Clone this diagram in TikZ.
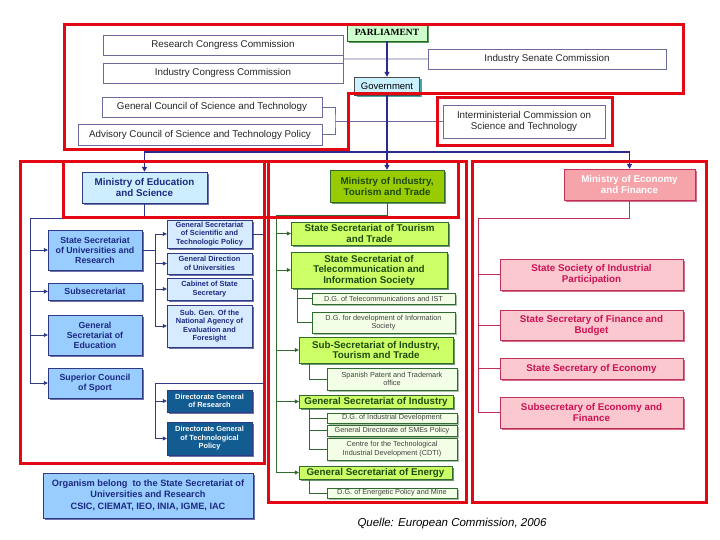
\documentclass[tikz,border=0pt]{standalone}
\usepackage{fontspec}
\setmainfont{Liberation Sans}
\newfontfamily\timesfont{Liberation Serif}
\usepackage{tikz}
\usetikzlibrary{arrows.meta,calc,positioning,shadows}

\definecolor{framered}{HTML}{E30613}
\definecolor{navyline}{HTML}{2B2B8C}
\definecolor{comline}{HTML}{6B6B9E}
\definecolor{parlfill}{HTML}{CCFFCC}
\definecolor{parlline}{HTML}{1E6B1E}
\definecolor{govfill}{HTML}{C9F1FF}
\definecolor{eduline}{HTML}{2E3A86}
\definecolor{edutext}{HTML}{1C2A80}
\definecolor{eduminfill}{HTML}{CDEEFF}
\definecolor{edumidfill}{HTML}{99CCFF}
\definecolor{edulowfill}{HTML}{D6EBFF}
\definecolor{edudirfill}{HTML}{135C91}
\definecolor{indline}{HTML}{2F6B2F}
\definecolor{indtext}{HTML}{1E4A10}
\definecolor{indminfill}{HTML}{99CC00}
\definecolor{indmidfill}{HTML}{CCFF66}
\definecolor{indlowfill}{HTML}{F2FFE6}
\definecolor{ecoline}{HTML}{C03058}
\definecolor{ecotext}{HTML}{CC1155}
\definecolor{ecominfill}{HTML}{F7A3AA}
\definecolor{ecomidfill}{HTML}{FAC8CE}

\begin{document}
\begin{tikzpicture}[x=1pt, y=-1pt,
    every node/.style={align=center, inner sep=.5pt},
    wh/.style 2 args={minimum width=#1pt, minimum height=#2pt},
    redframe/.style={draw=framered, line width=3pt},
    boxshadow/.style={drop shadow={shadow xshift=2pt, shadow yshift=-2pt, fill=#1, opacity=.7}},
    com/.style={draw=comline, fill=white, text=black!85, font=\fontsize{9.8}{11.5}\selectfont},
    parlbox/.style={draw=parlline, fill=parlfill, font=\timesfont\bfseries\fontsize{9.5}{10}\selectfont, boxshadow=parlline},
    govbox/.style={draw=black!70, fill=govfill, font=\fontsize{9.5}{10}\selectfont, boxshadow=teal},
    edumin/.style={draw=eduline, fill=eduminfill, text=edutext, font=\bfseries\fontsize{9.8}{11}\selectfont, boxshadow=eduline},
    edumid/.style={draw=eduline, fill=edumidfill, text=edutext, font=\bfseries\fontsize{8.8}{10}\selectfont, boxshadow=eduline},
    edulow/.style={draw=eduline, fill=edulowfill, text=edutext, font=\bfseries\fontsize{7.4}{8.3}\selectfont, boxshadow=eduline},
    edudir/.style={draw=eduline, fill=edudirfill, text=white, font=\bfseries\fontsize{7.4}{8.5}\selectfont, boxshadow=eduline},
    orgbox/.style={edumid, font=\bfseries\fontsize{9.2}{10.5}\selectfont},
    indmin/.style={draw=indline, fill=indminfill, text=indtext, font=\bfseries\fontsize{9.8}{11}\selectfont, boxshadow=indline},
    indmid/.style={draw=indline, fill=indmidfill, text=indtext, font=\bfseries\fontsize{9.8}{10.5}\selectfont, boxshadow=indline},
    indlow/.style={draw=indline, fill=indlowfill, text=black!75, font=\fontsize{7.3}{8.3}\selectfont, boxshadow=indline!60},
    ecomin/.style={draw=ecoline, fill=ecominfill, text=white, font=\bfseries\fontsize{9.8}{11}\selectfont, boxshadow=ecoline},
    ecomid/.style={draw=ecoline, fill=ecomidfill, text=ecotext, font=\bfseries\fontsize{9.8}{11}\selectfont, boxshadow=ecoline},
    comcon/.style={draw=comline, line width=.6pt},
    navycon/.style={draw=navyline, line width=1.5pt},
    educon/.style={draw=eduline, line width=.8pt},
    indcon/.style={draw=indline, line width=.8pt},
    ecocon/.style={draw=ecoline, line width=.8pt}]
    \fill[white] (0,0) rectangle (720,540);
    \useasboundingbox (0,0) rectangle (720,540);

    \node[parlbox, wh={80}{18}] (parl) at (387,32) {PARLIAMENT};
    \node[govbox, wh={65}{18}] (gov) at (387,86) {Government};
    \node[com, wh={240}{20}] (rcc) at (223,45) {Research Congress Commission};
    \node[com, wh={240}{20}] (icc) at (223,73) {Industry Congress Commission};
    \node[com, wh={238}{20}] (isc) at (547,59) {Industry Senate Commission};
    \node[com, wh={220}{20}] (gcst) at (212,107) {General Council of Science and Technology};
    \node[com, wh={244}{21}] (acst) at (200,134.5) {Advisory Council of Science and Technology Policy};
    \node[com, wh={162}{33}] (icst) at (524,121.5) {Interministerial Commission on\\Science and Technology};

    \node[edumin, wh={125}{31}] (mes) at (144.5,187.5) {Ministry of Education\\and Science};
    \node[indmin, wh={114}{32}] (mitt) at (387,186) {Ministry of Industry,\\Tourism and Trade};
    \node[ecomin, wh={131}{31}] (mef) at (629.5,184.5) {Ministry of Economy\\and Finance};

    \node[edumid, wh={94}{40}] (ssur) at (95,250) {State Secretariat\\of Universities and\\Research};
    \node[edumid, wh={94}{17}] (subs) at (95,291.5) {Subsecretariat};
    \node[edumid, wh={94}{40}] (gse) at (95,335) {General\\Secretariat of\\Education};
    \node[edumid, wh={94}{30}] (scs) at (95,383) {Superior Council\\of Sport};
    \node[edulow, wh={85}{28}] (gsst) at (209.5,234) {General Secretariat\\of Scientific and\\Technologic Policy};
    \node[edulow, wh={85}{21}] (gdu) at (209.5,263.5) {General Direction\\of Universities};
    \node[edulow, wh={85}{22}] (css) at (209.5,289) {Cabinet of State\\Secretary};
    \node[edulow, wh={85}{42}] (sgn) at (209.5,326) {Sub. Gen. Of the\\National Agency of\\Evaluation and\\Foresight};
    \node[edudir, wh={85}{22}] (dgr) at (209.5,401) {Directorate General\\of Research};
    \node[edudir, wh={85}{33}] (dgtp) at (209.5,438.5) {Directorate General\\of Technological\\Policy};
    \node[orgbox, wh={210}{45}] (org) at (148,495.5) {Organism belong\ \ to the State Secretariat of\\Universities and Research\\[2pt]CSIC, CIEMAT, IEO, INIA, IGME, IAC};

    \node[indmid, wh={157}{23}] (sstt) at (369.5,233.5) {State Secretariat of Tourism\\and Trade};
    \node[indmid, wh={156}{36}] (ssti) at (369,270) {State Secretariat of\\Telecommunication and\\Information Society};
    \node[indlow, wh={143}{11}] (dgt) at (383.5,298.5) {D.G. of Telecommunications and IST};
    \node[indlow, wh={143}{21}] (dgis) at (383.5,322.5) {D.G. for development of Information\\Society};
    \node[indmid, wh={154}{26}] (ssit) at (376,350) {Sub-Secretariat of Industry,\\Tourism and Trade};
    \node[indlow, wh={130}{22}] (spto) at (392,379) {Spanish Patent and Trademark\\office};
    \node[indmid, wh={154}{13}] (gsi) at (376,401.5) {General Secretariat of Industry};
    \node[indlow, wh={130}{10}] (dgid) at (392,418) {D.G. of Industrial Development};
    \node[indlow, wh={130}{11}] (gdsme) at (392,430.5) {General Directorate of SMEs Policy};
    \node[indlow, wh={130}{22}] (cdti) at (392,449) {Centre for the Technological\\Industrial Development (CDTI)};
    \node[indmid, wh={153}{13}] (gsen) at (375.5,472.5) {General Secretariat of Energy};
    \node[indlow, wh={130}{10}] (dgep) at (392,493) {D.G. of Energetic Policy and Mine};

    \node[ecomid, wh={183}{31}] (ssip) at (591.5,274.5) {State Society of Industrial\\Participation};
    \node[ecomid, wh={183}{30}] (ssfb) at (591.5,325) {State Secretary of Finance and\\Budget};
    \node[ecomid, wh={183}{21}] (sse) at (591.5,368.5) {State Secretary of Economy};
    \node[ecomid, wh={183}{31}] (sef) at (591.5,412.5) {Subsecretary of Economy and\\Finance};

    \node[font=\itshape\fontsize{11.5}{13}\selectfont] (src) at (452,524) {Quelle: European Commission, 2006};

    \coordinate (cc) at ($(rcc.south east)!.5!(icc.north east)$);
    \draw[comcon] (rcc.south east) -- (icc.north east);
    \draw[comcon] (cc) -- (isc.west);
    \coordinate (cb) at (335,121.5);
    \draw[comcon] (gcst.east) -| (cb) |- (acst.east);
    \draw[comcon] (cb) -- (icst.west);

    \coordinate (hub) at (387,152);
    \draw[navycon, -{Triangle[length=5pt,width=5pt]}] (parl) -- (gov);
    \draw[navycon] (gov) -- (hub);
    \draw[navycon, -{Triangle[length=5pt,width=5pt]}] (hub) -| (mes.north);
    \draw[navycon, -{Triangle[length=5pt,width=5pt]}] (hub) -- (mitt.north);
    \draw[navycon, -{Triangle[length=5pt,width=5pt]}] (hub) -| (mef.north);

    \coordinate (ej) at (30,218);
    \draw[educon] (mes.south) |- (ej) -- (ej |- scs.west);
    \foreach \n in {ssur,subs,gse,scs}
        \draw[educon, -{Triangle[length=4pt,width=4pt]}] (ej |- \n.west) -- (\n.west);
    \coordinate (eb) at (155,250);
    \draw[educon] (ssur.east) -- (eb);
    \draw[educon] (eb |- gsst.west) -- (eb |- sgn.west);
    \foreach \n in {gsst,gdu,css,sgn}
        \draw[educon, -{Triangle[length=4pt,width=4pt]}] (eb |- \n.west) -- (\n.west);
    \coordinate (gstub) at (265,234);
    \draw[educon] (gsst.east) -- (gstub);
    \coordinate (dj) at (265,383);
    \draw[educon] (dj) -- (dj -| eb) -- (eb |- dgtp.west);
    \foreach \n in {dgr,dgtp}
        \draw[educon, -{Triangle[length=4pt,width=4pt]}] (eb |- \n.west) -- (\n.west);

    \coordinate (ij) at (276,215);
    \draw[indcon] (mitt.south) |- (ij) -- (ij |- gsen.west);
    \foreach \n in {sstt,ssti,ssit,gsi,gsen}
        \draw[indcon, -{Triangle[length=4pt,width=4pt]}] (ij |- \n.west) -- (\n.west);
    \coordinate (tb) at ($(ssti.south west)+(7,0)$);
    \draw[indcon] (tb) |- (dgt.west);
    \draw[indcon] (tb) |- (dgis.west);
    \coordinate (pb) at ($(ssit.south west)+(11,0)$);
    \draw[indcon] (pb) |- (spto.west);
    \coordinate (ib) at ($(gsi.south west)+(11,0)$);
    \foreach \n in {dgid,gdsme,cdti}
        \draw[indcon] (ib) |- (\n.west);
    \coordinate (nb) at ($(gsen.south west)+(11,0)$);
    \draw[indcon] (nb) |- (dgep.west);

    \coordinate (fj) at (478,218);
    \draw[ecocon] (mef.south) |- (fj) -- (fj |- sef.west);
    \foreach \n in {ssip,ssfb,sse,sef}
        \draw[ecocon] (fj |- \n.west) -- (\n.west);

    \draw[redframe] (64,25) -- (683,25) -- (683,94) -- (348,94) -- (348,150) -- (64,150) -- cycle;
    \draw[redframe] (437,98) rectangle (612,146);
    \draw[redframe] (20,162) rectangle (264,463);
    \draw[redframe] (268,162) rectangle (466,502);
    \draw[redframe] (472,162) rectangle (706,502);
    \draw[redframe] (63,162) rectangle (458,218);
\end{tikzpicture}
\end{document}
